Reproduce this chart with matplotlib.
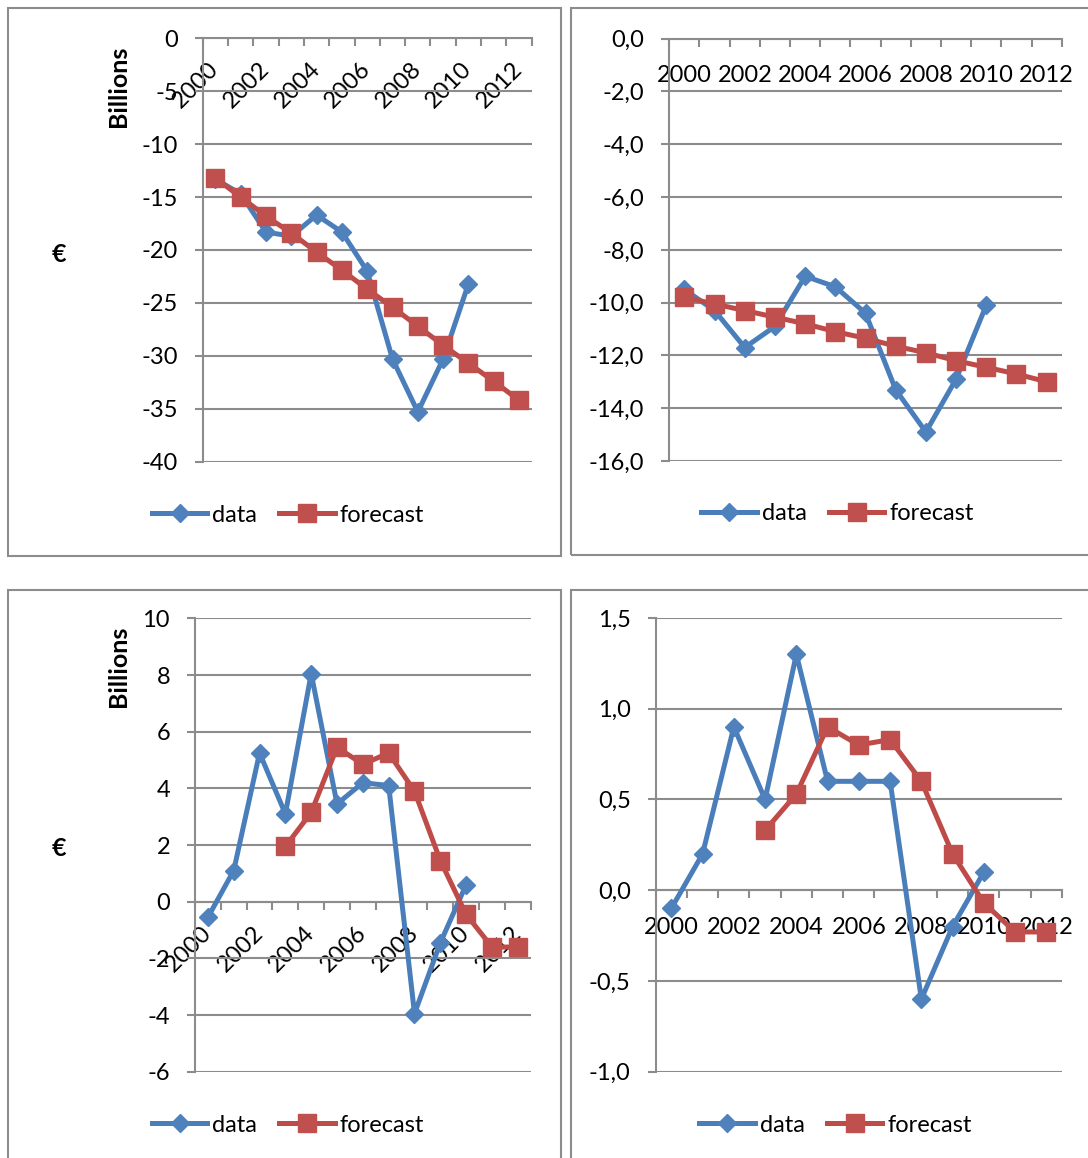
import numpy as np
import matplotlib
matplotlib.use("Agg")
import matplotlib.pyplot as plt
from matplotlib.lines import Line2D
from matplotlib.patches import Rectangle

plt.rcParams['font.family'] = ['Lato', 'DejaVu Sans']

years = list(range(2000, 2013))
year_labels = ["2000", "2002", "2004", "2006", "2008", "2010", "2012"]
nan = np.nan

# Panel 1 (top-left)
tl_data = [-13.3, -14.7, -18.3, -18.7, -16.7, -18.3, -22.0, -30.3, -35.3, -30.3, -23.2, nan, nan]
tl_forecast = [-13.2, -15.0, -16.8, -18.4, -20.2, -21.9, -23.7, -25.4, -27.2, -29.0, -30.7, -32.4, -34.2]
tl_yticks = [0, -5, -10, -15, -20, -25, -30, -35, -40]
tl_ylabels = ["0", "-5", "-10", "-15", "-20", "-25", "-30", "-35", "-40"]

# Panel 2 (top-right)
tr_data = [-9.5, -10.3, -11.7, -10.9, -9.0, -9.4, -10.4, -13.3, -14.9, -12.9, -10.1, nan, nan]
tr_forecast = [-9.8, -10.05, -10.3, -10.55, -10.8, -11.1, -11.35, -11.65, -11.9, -12.2, -12.45, -12.7, -13.0]
tr_yticks = [0, -2, -4, -6, -8, -10, -12, -14, -16]
tr_ylabels = ["0,0", "-2,0", "-4,0", "-6,0", "-8,0", "-10,0", "-12,0", "-14,0", "-16,0"]

# Panel 3 (bottom-left)
bl_data = [-0.55, 1.1, 5.25, 3.1, 8.05, 3.45, 4.2, 4.1, -3.95, -1.45, 0.6, nan, nan]
bl_forecast = [nan, nan, nan, 1.95, 3.15, 5.45, 4.85, 5.25, 3.9, 1.45, -0.45, -1.6, -1.6]
bl_yticks = [10, 8, 6, 4, 2, 0, -2, -4, -6]
bl_ylabels = ["10", "8", "6", "4", "2", "0", "-2", "-4", "-6"]

# Panel 4 (bottom-right)
br_data = [-0.1, 0.2, 0.9, 0.5, 1.3, 0.6, 0.6, 0.6, -0.6, -0.2, 0.1, nan, nan]
br_forecast = [nan, nan, nan, 0.33, 0.53, 0.9, 0.8, 0.83, 0.6, 0.2, -0.07, -0.23, -0.23]
br_yticks = [1.5, 1.0, 0.5, 0.0, -0.5, -1.0]
br_ylabels = ["1,5", "1,0", "0,5", "0,0", "-0,5", "-1,0"]

series_names = ["data", "forecast"]

W, H = 1088, 1158
fig = plt.figure(figsize=(W / 100, H / 100), dpi=100)

BLUE_L, BLUE_M = "#4A7EBB", "#4F81BD"
RED_L, RED_M = "#BE4B48", "#C0504D"
GRID = "#8C8C8C"
FS = 17


def rect(l, t, r, b):
    return [l / W, 1 - b / H, (r - l) / W, (b - t) / H]


# frames
for (l, t, r, b) in [(7.5, 8, 560.5, 556), (571, 8, 1100, 555),
                     (7.5, 589.5, 560.5, 1170), (571, 589.5, 1100, 1170)]:
    fig.patches.append(Rectangle((l / W, 1 - b / H), (r - l) / W, (b - t) / H,
                                 transform=fig.transFigure, fill=False,
                                 edgecolor=GRID, linewidth=1.5, zorder=0))

panels = [
    (rect(202.7, 38.3, 531.7, 461.7), tl_data, tl_forecast, tl_yticks, tl_ylabels, (-40, 0), True, (288, 515)),
    (rect(669.3, 38.7, 1061.7, 461.0), tr_data, tr_forecast, tr_yticks, tr_ylabels, (-16, 0), False, (837.5, 514)),
    (rect(195.0, 618.4, 530.7, 1071.7), bl_data, bl_forecast, bl_yticks, bl_ylabels, (-6, 10), True, (288, 1125)),
    (rect(655.7, 618.0, 1062.0, 1071.7), br_data, br_forecast, br_yticks, br_ylabels, (-1.0, 1.5), False, (835.5, 1125)),
]

x = np.arange(len(years))
for pos, dat, fc, yt, yl, ylim, rot, legpos in panels:
    ax = fig.add_axes(pos)
    ax.set_facecolor("none")
    ax.set_xlim(-0.5, len(years) - 0.5)
    ax.set_ylim(*ylim)
    ax.set_axisbelow(True)
    for s in ["top", "right"]:
        ax.spines[s].set_visible(False)
    for s in ["left", "bottom"]:
        ax.spines[s].set_color(GRID)
        ax.spines[s].set_linewidth(1.5)
    ax.spines["bottom"].set_position(("data", 0))
    ax.set_yticks(yt)
    ax.set_yticklabels(yl)
    ax.yaxis.grid(True, color=GRID, linewidth=1.5)
    ax.tick_params(axis="y", direction="out", length=6, width=1.5, color=GRID,
                   pad=12, labelsize=FS)
    ax.set_xticks(np.arange(-0.5, len(years), 1.0))
    ax.set_xticklabels([])
    ax.tick_params(axis="x", which="major", direction="out", length=5.5, width=1.5, color=GRID)
    ax.set_xticks(x[::2], minor=True)
    if rot:
        ax.set_xticklabels(year_labels, minor=True, rotation=45, ha="right", va="center",
                           rotation_mode="anchor")
        ax.tick_params(axis="x", which="minor", length=0, pad=20, labelsize=FS)
    else:
        ax.set_xticklabels(year_labels, minor=True)
        ax.tick_params(axis="x", which="minor", length=0, pad=19, labelsize=FS)

    ax.plot(x, dat, color=BLUE_L, linewidth=3.6, marker="D", markersize=9.5,
            markerfacecolor=BLUE_M, markeredgecolor=BLUE_M, zorder=3, clip_on=False)
    ax.plot(x, fc, color=RED_L, linewidth=3.6, marker="s", markersize=12.5,
            markerfacecolor=RED_M, markeredgecolor=RED_M, zorder=4, clip_on=False)

    handles = [
        Line2D([], [], color=BLUE_L, linewidth=3.6, marker="D", markersize=9.5,
               markerfacecolor=BLUE_M, markeredgecolor=BLUE_M),
        Line2D([], [], color=RED_L, linewidth=3.6, marker="s", markersize=12.5,
               markerfacecolor=RED_M, markeredgecolor=RED_M),
    ]
    ax.legend(handles, series_names, loc="center",
              bbox_to_anchor=(legpos[0] / W, 1 - legpos[1] / H),
              bbox_transform=fig.transFigure, ncol=2, frameon=False,
              handlelength=2.35, handletextpad=0.2, columnspacing=0.95,
              fontsize=FS, borderpad=0, borderaxespad=0)

# axis titles
for yc in (86, 666):
    fig.text(119 / W, 1 - yc / H, "Billions", rotation=90, ha="center", va="center",
             fontsize=18, fontweight="bold")
for yc in (255, 849):
    fig.text(59 / W, 1 - yc / H, "€", ha="center", va="center",
             fontsize=18, fontweight="bold")

fig.savefig("out.png", dpi=100)
